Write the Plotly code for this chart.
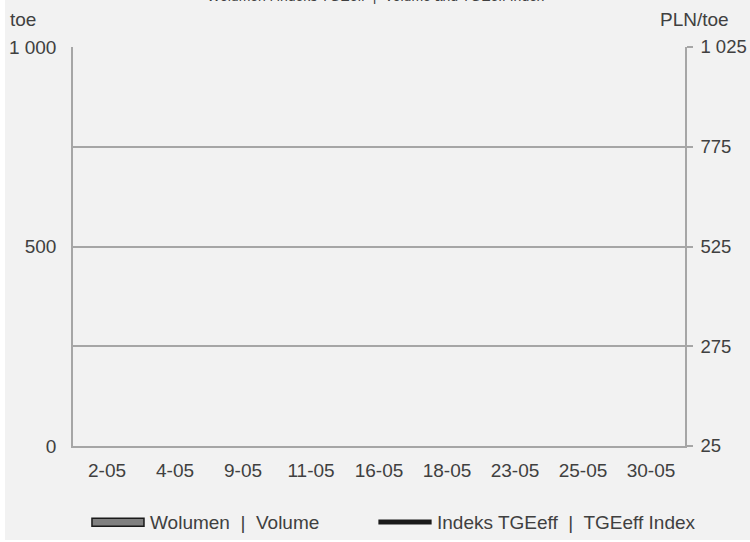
import plotly.graph_objects as go

# trading days shown on the category axis
dates = ["2-05", "4-05", "9-05", "11-05", "16-05", "18-05", "23-05", "25-05", "30-05"]
# no values are drawn in the reference, so both series are empty
volume_toe = [None, None, None, None, None, None, None, None, None]
index_pln_toe = [None, None, None, None, None, None, None, None, None]

left_ticks = [0, 250, 500, 750, 1000]
left_ticktext = ["0", "", "500", "", "1 000"]
right_ticks = [25, 275, 525, 775, 1025]
right_ticktext = ["25", "275", "525", "775", "1 025"]

BG = "#f2f2f2"
GRID = "#a6a6a6"
TEXT = "#404040"
FONT = "Liberation Sans, Arial, sans-serif"

fig = go.Figure()

# Volume bars (left axis)
fig.add_trace(go.Bar(
    x=dates, y=volume_toe, name="Wolumen  |  Volume",
    marker=dict(color="#808080", line=dict(color="#1a1a1a", width=1.5)),
    yaxis="y", showlegend=False
))

# TGEeff index line (right axis)
fig.add_trace(go.Scatter(
    x=dates, y=index_pln_toe, name="Indeks TGEeff  |  TGEeff Index",
    mode="lines", line=dict(color="#1a1a1a", width=5),
    yaxis="y2", showlegend=False
))

fig.update_layout(
    width=745, height=540,
    margin=dict(l=68, r=65, t=47, b=94),
    paper_bgcolor=BG, plot_bgcolor=BG,
    font=dict(family=FONT, size=19, color=TEXT),
    xaxis=dict(
        type="category", showline=True, linecolor=GRID, linewidth=1.5,
        showgrid=False, ticks="", ticklabelstandoff=6, automargin=False,
    ),
    yaxis=dict(
        range=[0, 1000], tickvals=left_ticks, ticktext=left_ticktext,
        showgrid=True, gridcolor=GRID, gridwidth=1.5, zeroline=False,
        showline=True, linecolor=GRID, linewidth=1.5, ticks="",
        ticklabelstandoff=11, automargin=False,
    ),
    yaxis2=dict(
        range=[25, 1025], tickvals=right_ticks, ticktext=right_ticktext,
        overlaying="y", side="right", showgrid=False, zeroline=False,
        showline=True, linecolor=GRID, linewidth=1.5,
        ticks="outside", ticklen=6, tickcolor=GRID, tickwidth=1.5,
        ticklabelstandoff=4, automargin=False, tickfont=dict(size=18.5),
    ),
)

# axis unit labels and the (clipped) title
fig.add_annotation(text="toe", x=-0.106, y=1.068, xref="paper", yref="paper",
                   xanchor="left", yanchor="middle", showarrow=False)
fig.add_annotation(text="PLN/toe", x=1.075, y=1.068, xref="paper", yref="paper",
                   xanchor="right", yanchor="middle", showarrow=False)
fig.add_annotation(text="Wolumen i indeks TGEeff  |  Volume and TGEeff Index",
                   x=0.4935, y=1.1028, xref="paper", yref="paper",
                   xanchor="center", yanchor="bottom", showarrow=False,
                   font=dict(size=14))

# legend drawn by hand so the swatches match the original proportions
fig.add_shape(type="rect", xref="paper", yref="paper",
              x0=0.031, x1=0.116, y0=-0.201, y1=-0.181,
              fillcolor="#808080", line=dict(color="#1a1a1a", width=1.5))
fig.add_shape(type="line", xref="paper", yref="paper",
              x0=0.499, x1=0.586, y0=-0.1905, y1=-0.1905,
              line=dict(color="#1a1a1a", width=5))
fig.add_annotation(text="Wolumen  |  Volume", x=0.122, y=-0.1905,
                   xref="paper", yref="paper", xanchor="left", yanchor="middle",
                   showarrow=False)
fig.add_annotation(text="Indeks TGEeff  |  TGEeff Index", x=0.592, y=-0.1905,
                   xref="paper", yref="paper", xanchor="left", yanchor="middle",
                   showarrow=False)

# the original sits 5px in from the left edge of the page, flush with the top
fig.write_html("out.html", post_script="document.body.style.margin='0 0 0 5px';")
